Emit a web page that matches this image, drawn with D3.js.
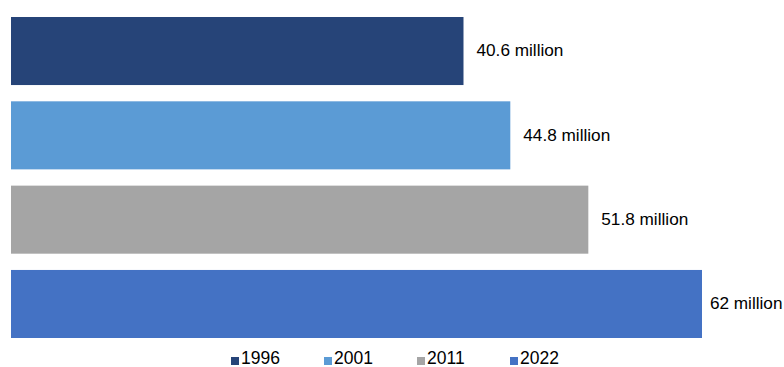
<!DOCTYPE html>
<html>
<head>
<meta charset="utf-8">
<script src="https://cdn.jsdelivr.net/npm/d3@7"></script>
<style>
  html, body { margin: 0; padding: 0; background: #fff; }
  svg { display: block; }
</style>
</head>
<body>
<svg id="chart" width="784" height="367"></svg>
<script>
const years = ["1996", "2001", "2011", "2022"];
const values = [40.6, 44.8, 51.8, 62];
const labels = ["40.6 million", "44.8 million", "51.8 million", "62 million"];
const colors = ["#264478", "#5B9BD5", "#A5A5A5", "#4472C4"];

const W = 784;
const svg = d3.select("#chart");
const font = "Liberation Sans, Arial, sans-serif";

const x = d3.scaleLinear().domain([0, 62]).range([11, 702]);
const y = d3.scaleBand().domain(years).range([17, 338]).paddingInner(0.193).paddingOuter(0);
const color = d3.scaleOrdinal().domain(years).range(colors);

const data = years.map((yr, i) => ({ year: yr, value: values[i], label: labels[i] }));

svg.selectAll("rect.bar").data(data).join("rect")
  .attr("class", "bar")
  .attr("x", x(0))
  .attr("y", d => y(d.year))
  .attr("width", d => x(d.value) - x(0))
  .attr("height", y.bandwidth())
  .attr("fill", d => color(d.year));

svg.selectAll("text.lbl").data(data).join("text")
  .attr("class", "lbl")
  .attr("x", d => x(d.value) + 13)
  .attr("y", d => y(d.year) + y.bandwidth() / 2)
  .attr("dy", "0.3em")
  .attr("font-family", font)
  .attr("font-size", "17.2px")
  .attr("fill", "#000")
  .text(d => d.label)
  .each(function () {
    const bb = this.getBBox();
    if (bb.x + bb.width > W - 1) {
      d3.select(this).attr("x", W - 1.5 - bb.width);
    }
  });

const legend = svg.append("g");
const legX = d3.scalePoint().domain(years).range([231, 510]);
const items = legend.selectAll("g").data(years).join("g")
  .attr("transform", d => `translate(${legX(d)},357)`);
items.append("rect")
  .attr("width", 8).attr("height", 8)
  .attr("fill", d => color(d));
items.append("text")
  .attr("x", 10).attr("y", 7)
  .attr("font-family", font)
  .attr("font-size", "17.5px")
  .attr("fill", "#000")
  .text(d => d);
</script>
</body>
</html>
